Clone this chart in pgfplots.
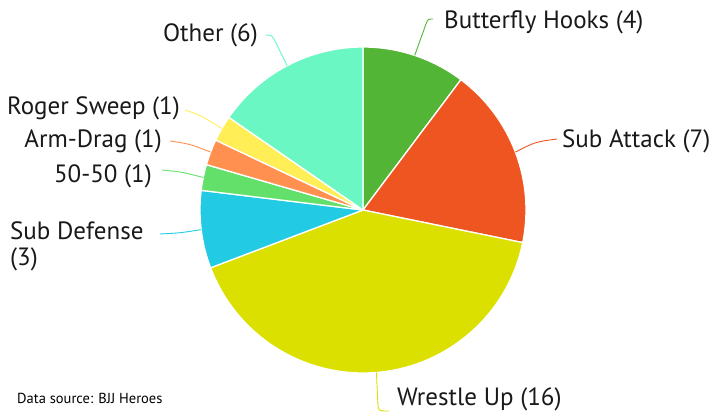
\documentclass[border=0pt]{standalone}
\usepackage{fontspec}
\setmainfont{PT Sans}
\usepackage{pgfplots}
\usepackage{pgfplotstable}
\pgfplotsset{compat=1.18}

\definecolor{cButterfly}{HTML}{52B535}
\definecolor{cSubAttack}{HTML}{EE5520}
\definecolor{cWrestle}{HTML}{DCE000}
\definecolor{cSubDef}{HTML}{22CBE3}
\definecolor{cFifty}{HTML}{63E06A}
\definecolor{cArmDrag}{HTML}{FF9050}
\definecolor{cRoger}{HTML}{FFEE55}
\definecolor{cOther}{HTML}{6AF7C3}

% slices, clockwise from 12 o'clock
\pgfplotstableread{
value color
4  cButterfly
7  cSubAttack
16 cWrestle
3  cSubDef
1  cFifty
1  cArmDrag
1  cRoger
6  cOther
}\piedata

\begin{document}
\begin{tikzpicture}
% total and start/end angles of each slice
\def\pietotal{0}
\pgfplotsforeachungrouped \i in {0,...,7}{%
    \pgfplotstablegetelem{\i}{value}\of\piedata
    \pgfmathsetmacro\pietotal{\pietotal+\pgfplotsretval}%
}
\def\piestart{90}
\pgfplotsforeachungrouped \i in {0,...,7}{%
    \pgfplotstablegetelem{\i}{value}\of\piedata
    \pgfmathsetmacro\pieend{\piestart-360*\pgfplotsretval/\pietotal}%
    \expandafter\xdef\csname pieS\i\endcsname{\piestart}%
    \expandafter\xdef\csname pieE\i\endcsname{\pieend}%
    \pgfplotstablegetelem{\i}{color}\of\piedata
    \expandafter\xdef\csname pieC\i\endcsname{\pgfplotsretval}%
    \xdef\piestart{\pieend}%
}
\begin{axis}[
    width=720pt, height=420pt,
    scale only axis,
    xmin=0, xmax=720,
    ymin=0, ymax=420,
    hide axis,
    clip=false,
]
    % keep the whole canvas in the bounding box
    \path (rel axis cs:0,0) rectangle (rel axis cs:1,1);

    \pgfplotsinvokeforeach{0,...,7}{%
        \edef\pietmp{\noexpand\fill[fill=\csname pieC#1\endcsname, draw=white, line width=1.3pt]
            (axis cs:363,210) -- ([shift={(\csname pieS#1\endcsname:163pt)}]axis cs:363,210)
            arc[start angle=\csname pieS#1\endcsname, end angle=\csname pieE#1\endcsname, radius=163pt]
            -- cycle;}%
        \pietmp
    }

    % leader lines
    \draw[cButterfly, line width=0.9pt] (axis cs:414.7,364.6) -- (axis cs:426,396) .. controls (axis cs:428,401) .. (axis cs:433,401);
    \draw[cSubAttack, line width=0.9pt] (axis cs:515.4,267.9) .. controls (axis cs:535,278) .. (axis cs:557,281);
    \draw[cWrestle, line width=0.9pt] (axis cs:376.4,47.5) -- (axis cs:378,14) .. controls (axis cs:379,9) .. (axis cs:389,9);
    \draw[cSubDef, line width=0.9pt] (axis cs:201.2,190.4) .. controls (axis cs:180,187) .. (axis cs:160,186);
    \draw[cFifty, line width=0.9pt] (axis cs:203.3,242.5) .. controls (axis cs:182,248) .. (axis cs:162,250);
    \draw[cArmDrag, line width=0.9pt] (axis cs:210.6,267.9) .. controls (axis cs:190,276) .. (axis cs:170,279);
    \draw[cRoger, line width=0.9pt] (axis cs:221.8,291.5) .. controls (axis cs:200,305) .. (axis cs:185,310);
    \draw[cOther, line width=0.9pt] (axis cs:287.2,354.3) -- (axis cs:276,377) .. controls (axis cs:272,385) .. (axis cs:265,385);

    % labels
    \begin{scope}[every node/.style={font=\fontsize{25}{27}\selectfont, inner sep=0pt, text=black!90}]
    \node[anchor=west] at (axis cs:444,398) {Butterfly Hooks (4)};
    \node[anchor=west] at (axis cs:562,279) {Sub Attack (7)};
    \node[anchor=west] at (axis cs:397,21) {Wrestle Up (16)};
    \node[anchor=west, align=left, font=\fontsize{25}{26}\selectfont] at (axis cs:10,174) {Sub Defense\\(3)};
    \node[anchor=east] at (axis cs:152,244) {50-50 (1)};
    \node[anchor=east] at (axis cs:162,279) {Arm-Drag (1)};
    \node[anchor=east] at (axis cs:180,312) {Roger Sweep (1)};
    \node[anchor=east] at (axis cs:258,385) {Other (6)};
    \end{scope}
    \node[anchor=west, inner sep=0pt, font=\fontsize{14.5}{16}\selectfont] at (axis cs:17,22) {Data source: BJJ Heroes};
\end{axis}
\end{tikzpicture}
\end{document}
